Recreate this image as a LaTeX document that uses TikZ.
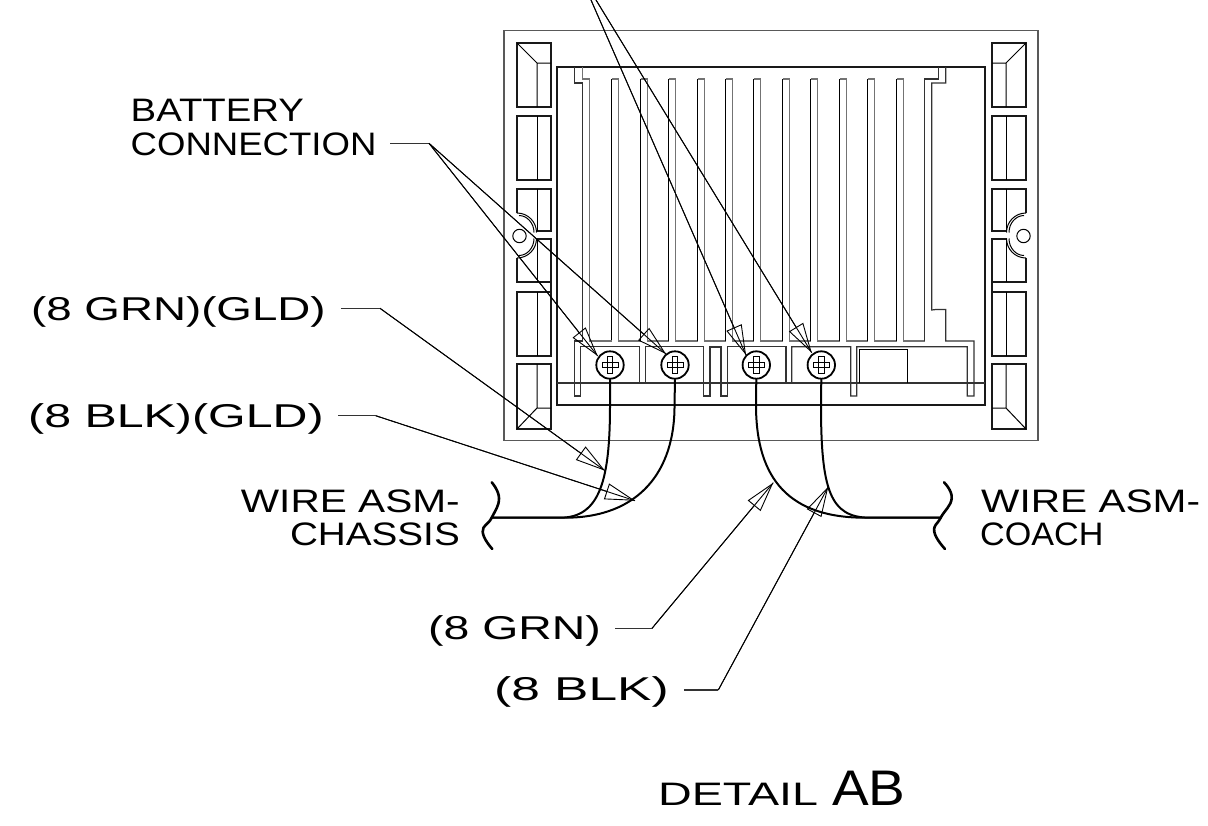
\documentclass[tikz,border=0pt]{standalone}
\usepackage{fontspec}
\setmainfont{Liberation Sans}
\usetikzlibrary{arrows.meta, calc}

\newcommand{\wtxt}[2]{\scalebox{#1}[1]{#2}}
\tikzset{
  housing/.style={line width=1.5pt, black!65},
  frameline/.style={line width=1.8pt, black!90},
  tabline/.style={line width=1.7pt, black!90, line join=miter},
  thinline/.style={line width=1pt},
  finline/.style={line width=1.4pt, black!55},
  finedge/.style={line width=1pt, black},
  bodyline/.style={line width=1.2pt, black!80},
  wire/.style={line width=2pt, line cap=round},
  breakmark/.style={line width=2.6pt, line cap=round},
  leader/.style={line width=0.9pt},
  tiphead/.style={-{Triangle[open,length=30pt,width=16.5pt]}},
  stub/.style={line width=1.1pt, black!80},
  labeltext/.style={font=\fontsize{32.5}{34.6}\selectfont, inner sep=0pt, anchor=base west},
  wirenote/.style={labeltext, font=\fontsize{33}{33}\selectfont},
  screwhead/.style={circle, draw, line width=1.8pt, minimum size=27.4pt, inner sep=0pt}
}

\begin{document}
\begin{tikzpicture}[x=1pt, y=-1pt]
\useasboundingbox (0,0) rectangle (1208,825);
\draw[housing] (504,30.7) rectangle (1038,440.7);

\foreach \m/\s in {0/1, 1543/-1} {
  \begin{scope}[xshift=\m pt, xscale=\s]
    \draw[tabline] (517,43) rectangle (551,107);
    \draw[thinline] (517,43) -- (537,63) -- (551,63) (537,63) -- (537,107);
    \draw[tabline] (517,116) rectangle (551,180);
    \draw[thinline] (537,116) -- (537,180);
    \draw[tabline] (517,213) -- (517,189) -- (551,189) -- (551,231) -- (536,231);
    \draw[thinline] (537,189) -- (537,231);
    \draw[thinline] (517,213) .. controls (527.8,213) and (536.5,221.7) .. (536.5,232.5);
    \draw[thinline] (519,215.5) .. controls (527,215.5) and (534,223) .. (534,232.5);
    \draw[tabline] (536,239) -- (551,239) -- (551,282) -- (517,282) -- (517,258) (551,282) -- (551,292);
    \draw[thinline] (537,239) -- (537,282);
    \draw[thinline] (517,258) .. controls (527.8,258) and (536.5,249.3) .. (536.5,238.5);
    \draw[thinline] (519,255.5) .. controls (527,255.5) and (534,248) .. (534,238.5);
    \draw[thinline] (519.5,236) circle[radius=6.7pt];
    \draw[tabline] (517,292) rectangle (551,356);
    \draw[thinline] (537,292) -- (537,356);
    \draw[tabline] (517,364) rectangle (551,429);
    \draw[thinline] (537,364) -- (537,408) -- (551,408) (537,408) -- (517,429);
  \end{scope}
}

\draw[frameline] (557.3,66.7) rectangle (985,405);
\draw[bodyline] (557.3,383) -- (985,383);

\foreach \i in {0,...,10} {
  \pgfmathsetmacro{\xa}{floor(611.7+28.45*\i)+0.5}
  \pgfmathsetmacro{\xb}{\xa+6.8}
  \pgfmathsetmacro{\xc}{floor(611.7+28.45*(\i+1))+0.5}
  \draw[finline] (\xa,79) -- (\xb,79) -- (\xb,341) -- (\xc,341);
  \draw[finedge] (\xa,341) -- (\xa,79);
}
\draw[finline] (589.3,341) -- (611.5,341) (589.3,341) -- (589.3,79) -- (582.7,79) -- (582.7,67);
\draw[bodyline] (574.7,67) -- (574.7,83) -- (582.7,83) -- (582.7,341) -- (574.7,341) -- (574.7,396) -- (580.7,396) -- (580.7,346.7) -- (639.3,346.7) -- (639.3,383);
\draw[bodyline] (645.3,383) -- (645.3,346.7) -- (703.3,346.7) -- (703.3,396) -- (710,396) -- (710,347) -- (721,347) -- (721,396) -- (727.3,396) -- (727.3,346.7) -- (786,346.7) -- (786,383);
\draw[bodyline] (791.7,383) -- (791.7,346.7) -- (850.7,346.7) -- (850.7,396) -- (856.7,396) -- (856.7,346.7) -- (967.3,346.7) -- (967.3,396) -- (974,396) -- (974,341) -- (945.7,341) -- (945.7,309.5) -- (936,309.5) -- (931.7,310) -- (931.7,83) -- (945.7,83) -- (945.7,67);
\draw[bodyline] (924.5,341) -- (924.5,79) -- (938.3,79) -- (938.3,67);
\draw[thinline] (859.3,383) -- (859.3,349.3) -- (907.7,349.3) -- (907.7,383);

\foreach \i/\x in {1/610, 2/675, 3/756.3, 4/821.3} {
  \node[screwhead] (s\i) at (\x,365) {};
  \draw[thinline] ([shift={(-8pt,-2.7pt)}]s\i.center) rectangle ([shift={(8pt,2.7pt)}]s\i.center);
  \draw[thinline] ([shift={(-2.7pt,-8.3pt)}]s\i.center) rectangle ([shift={(2.7pt,8.3pt)}]s\i.center);
}

\coordinate (bl) at (491.7,517.7);
\coordinate (br) at (940.7,517.7);
\draw[wire] (s1.south) -- (610,405) .. controls (610,480) and (600,517.7) .. (560,517.7) -- (bl);
\draw[wire] (s2.south) -- (674.5,405) .. controls (675,470) and (640,517.7) .. (565,517.7) -- (bl);
\draw[wire] (s3.south) -- (756,405) .. controls (756,480) and (790,517.7) .. (865,517.7) -- (br);
\draw[wire] (s4.south) -- (821,405) .. controls (821,490) and (830,517.7) .. (870,517.7) -- (br);
\draw[breakmark] plot[smooth, tension=0.8] coordinates {(491.7,482.3) (499,498.3) (491.7,517.7) (482.7,531.7) (492.3,549)};
\draw[breakmark] plot[smooth, tension=0.8] coordinates {(944,482.3) (951.7,498.3) (940.7,517.7) (934.3,531.7) (945,549)};

\node[labeltext, align=left, anchor=north west] (bat) at (130.5,98.5) {\wtxt{1.18}{BATTERY}\\\wtxt{1.125}{CONNECTION}};
\node[wirenote] (grngld) at (31,320) {\wtxt{1.385}{(8 GRN)(GLD)}};
\node[wirenote] (blkgld) at (28,427.3) {\wtxt{1.465}{(8 BLK)(GLD)}};
\node[labeltext, anchor=base east] (chassis) at (460,545) {\wtxt{1.19}{CHASSIS}};
\node[labeltext, anchor=base east] (wirel) at (460,512.3) {\wtxt{1.25}{WIRE ASM-}};
\node[labeltext] (wirer) at (981,512.3) {\wtxt{1.25}{WIRE ASM-}};
\node[labeltext] (coach) at (980,545) {\wtxt{1.05}{COACH}};
\node[wirenote] (grn) at (428,639.3) {\wtxt{1.405}{(8 GRN)}};
\node[wirenote] (blk) at (494,700.7) {\wtxt{1.56}{(8 BLK)}};
\node[labeltext] (detail) at (658,805.7) {\wtxt{1.435}{DETAIL}\hspace{14pt}\wtxt{1.1}{\fontsize{50}{50}\selectfont AB}};

\coordinate (kbat) at (429,143.3);
\coordinate (kgrngld) at (380,308.3);
\coordinate (kblkgld) at (375.7,415.7);
\coordinate (kgrn) at (651.7,628.7);
\coordinate (kblk) at (718.3,690);
\coordinate (ttop) at (591,0);
\coordinate (ttopb) at (596,0);
\coordinate (t1) at (597.7,356);
\coordinate (t2) at (666,354);
\coordinate (t3) at (746,355);
\coordinate (t4) at (811.7,352.7);
\coordinate (tgrngld) at (605,470.7);
\coordinate (tblkgld) at (635,500.7);
\coordinate (tgrn) at (773.3,482.7);
\coordinate (tblk) at (828.3,486.7);

\draw[stub] (390,143.3) -- (kbat);
\foreach \a/\b in {kbat/t1, kbat/t2, ttop/t3, ttopb/t4, kgrngld/tgrngld, kblkgld/tblkgld, kgrn/tgrn, kblk/tblk} {
  \draw[leader] (\a) -- (\b);
  \draw[leader, tiphead] (\a) -- (\b);
}
\foreach \n/\k/\g in {grngld/kgrngld/15, blkgld/kblkgld/14.5, grn/kgrn/14.5, blk/kblk/15} {
  \draw[stub] ([xshift=\g pt]\n.east |- \k) -- (\k);
}
\end{tikzpicture}
\end{document}
